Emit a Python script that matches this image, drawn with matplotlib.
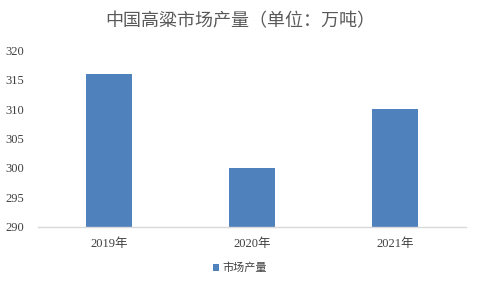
import matplotlib
matplotlib.use('Agg')
import matplotlib.pyplot as plt

years = ['2019年', '2020年', '2021年']
output = [316, 300, 310]
series_name = '市场产量'
title = '中国高粱市场产量（单位：万吨）'

plt.rcParams['font.family'] = ['Liberation Serif', 'Noto Sans CJK SC']

fig = plt.figure(figsize=(4.8, 2.88), dpi=100)
ax = fig.add_axes([0.079, 0.212, 0.892, 0.614])

x = range(len(years))
ax.bar(x, output, width=0.32, color='#4F81BD', label=series_name, zorder=2)

ax.set_xlim(-0.5, 2.5)
ax.set_ylim(290, 320)
ax.set_yticks(range(290, 321, 5))
ax.set_xticks(list(x))
ax.set_xticklabels(years)
ax.tick_params(axis='both', length=0, labelsize=9, colors='#404040')
ax.tick_params(axis='x', pad=8)
ax.tick_params(axis='y', pad=10)

for s in ['top', 'right', 'left']:
    ax.spines[s].set_visible(False)
ax.spines['bottom'].set_color('#D9D9D9')
ax.spines['bottom'].set_linewidth(1)

fig.text(0.5, 0.925, title, ha='center', va='center', fontsize=13,
         color='#595959', family=['Noto Sans CJK SC'], fontweight='light')

leg = fig.legend(loc='center', bbox_to_anchor=(0.5, 0.07), frameon=False,
                 handlelength=0.6, handleheight=0.6, handletextpad=0.3,
                 prop={'family': 'Noto Sans CJK SC', 'size': 8})
for t in leg.get_texts():
    t.set_color('#404040')

fig.savefig('out.png', dpi=100)
